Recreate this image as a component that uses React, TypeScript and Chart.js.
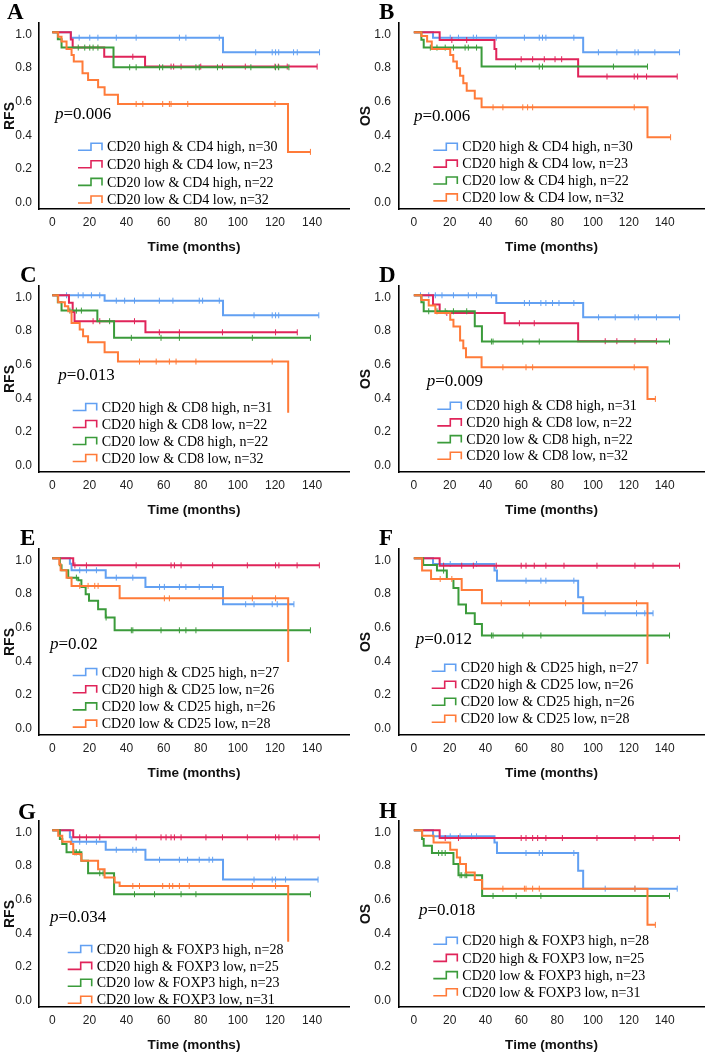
import React, { useEffect, useRef } from 'react';
import { Chart, registerables } from 'chart.js';

Chart.register(...registerables);

type Pt = [number, number];

// ---------------- shared ----------------
const GROUP_COLORS = ['#62a0f2', '#e0245a', '#3b9b3b', '#ff7b39'];
const X_TICKS = [0, 20, 40, 60, 80, 100, 120, 140];
const Y_TICKS = [0, 0.2, 0.4, 0.6, 0.8, 1.0];
const X_TITLE = 'Time (months)';

const CD4_LABELS = ['CD20 high & CD4 high, n=30', 'CD20 high & CD4 low, n=23', 'CD20 low & CD4 high, n=22', 'CD20 low & CD4 low, n=32'];
const CD8_LABELS = ['CD20 high & CD8 high, n=31', 'CD20 high & CD8 low, n=22', 'CD20 low & CD8 high, n=22', 'CD20 low & CD8 low, n=32'];
const CD25_LABELS = ['CD20 high & CD25 high, n=27', 'CD20 high & CD25 low, n=26', 'CD20 low & CD25 high, n=26', 'CD20 low & CD25 low, n=28'];
const FOXP3_LABELS = ['CD20 high & FOXP3 high, n=28', 'CD20 high & FOXP3 low, n=25', 'CD20 low & FOXP3 high, n=23', 'CD20 low & FOXP3 low, n=31'];

// ---------------- Panel A (RFS, CD4) ----------------
const A_HH_EV: Pt[] = [[10, 0.968], [92, 0.881]];
const A_HH_CEN = [14.5, 20.2, 24.6, 34.5, 45.2, 68.5, 72, 90, 109.6, 118.5, 120.3, 122, 130, 132, 144];
const A_HL_EV: Pt[] = [[10, 0.957], [11, 0.909], [28, 0.855], [50, 0.796]];
const A_HL_CEN = [43.4, 64, 65.4, 69.4, 80, 91.7, 104, 120, 121.8, 126.6, 142.7];
const A_LH_EV: Pt[] = [[3, 0.958], [5, 0.909], [33, 0.792]];
const A_LH_CEN = [14, 17.5, 20.2, 22, 24.6, 41.7, 45.2, 57.8, 59.5, 77.4, 79.2, 89, 107, 120.3, 122, 127.5];
const A_LL_EV: Pt[] = [[3.2, 0.974], [5, 0.945], [7.7, 0.901], [10.4, 0.865], [11.6, 0.826], [16.3, 0.756], [19.3, 0.717], [24.7, 0.673], [28.2, 0.628], [35.4, 0.574], [127, 0.289]];
const A_LL_CEN = [45.2, 48.8, 59.5, 63.1, 64, 73, 120, 139.1];
const A_ENDS = [144, 142.7, 127.5, 139.1];

// ---------------- Panel B (OS, CD4) ----------------
const B_HH_EV: Pt[] = [[10.7, 0.968], [94.5, 0.881]];
const B_HH_CEN = [20.3, 24.9, 33.2, 35, 46, 61.7, 70, 71.8, 73.7, 89.3, 103, 113.3, 123.4, 125.2, 134.5, 148.3];
const B_HL_EV: Pt[] = [[14.4, 0.954], [45, 0.901], [46, 0.84], [91.7, 0.737]];
const B_HL_CEN = [21.2, 29.5, 59.9, 66.3, 72.8, 78.8, 82.5, 107.8, 123, 124.9, 129.9, 147];
const B_LH_EV: Pt[] = [[4.2, 0.956], [5.5, 0.909], [37.8, 0.796]];
const B_LH_CEN = [9.2, 12.9, 17.5, 22.1, 28.6, 30.4, 35, 56.7, 70, 71.8, 111.4, 130.4];
const B_LL_EV: Pt[] = [[4.2, 0.978], [7.4, 0.945], [10, 0.901], [20.3, 0.865], [22, 0.826], [24, 0.786], [25.8, 0.741], [27.6, 0.697], [29.5, 0.653], [34, 0.606], [37.8, 0.554], [130.4, 0.376]];
const B_LL_CEN = [44.2, 49.7, 60.8, 63.5, 66.3, 123, 143.3];
const B_ENDS = [148.3, 147, 130.4, 143.3];

// ---------------- Panel C (RFS, CD8) ----------------
const C_HH_EV: Pt[] = [[28.2, 0.968], [92, 0.881]];
const C_HH_CEN = [7.7, 14, 16.6, 21.1, 25.6, 34.5, 39, 44.3, 57.7, 65, 79.2, 81, 90, 108.7, 118.5, 120.3, 122, 143.6];
const C_HL_EV: Pt[] = [[9, 0.955], [11, 0.9], [12, 0.846], [50.2, 0.78]];
const C_HL_CEN = [22, 25.6, 44.3, 57.7, 68.5, 91.7, 120.3, 132];
const C_LH_EV: Pt[] = [[3, 0.958], [5, 0.909], [24.3, 0.846], [33.3, 0.747]];
const C_LH_CEN = [9.5, 13, 15.7, 30.9, 42.6, 58.6, 68.5, 107.8, 139.1];
const C_LL_EV: Pt[] = [[3.2, 0.958], [6.8, 0.935], [8.6, 0.905], [10.4, 0.836], [14.8, 0.796], [16.6, 0.756], [19.3, 0.721], [28.2, 0.661], [35.4, 0.606], [127.1, 0.301]];
const C_LL_CEN = [47, 56, 63.1, 66.7, 77.4, 118.5];
const C_ENDS = [143.6, 132, 139.1, 127.1];

// ---------------- Panel D (OS, CD8) ----------------
const D_HH_EV: Pt[] = [[46, 0.954], [94.5, 0.869]];
const D_HH_CEN = [3.7, 8.3, 12, 15.7, 22.1, 30.4, 35, 43.3, 61.7, 64.5, 70.9, 73.7, 77.4, 81, 89.3, 103.1, 112.4, 123.4, 125.3, 135.4, 148.3];
const D_HL_EV: Pt[] = [[10.7, 0.945], [14.4, 0.895], [50.7, 0.834], [91.7, 0.727]];
const D_HL_CEN = [18.4, 58.9, 67.2, 106.8, 113.3, 123.4, 135.4];
const D_LH_EV: Pt[] = [[4.2, 0.958], [5.5, 0.905], [34, 0.816], [38, 0.725]];
const D_LH_CEN = [8.3, 12.9, 17.5, 22.1, 29.5, 43.3, 44.2, 60.8, 70, 142.7];
const D_LL_EV: Pt[] = [[4.2, 0.972], [8.3, 0.939], [12, 0.895], [20.3, 0.855], [22.1, 0.814], [25.8, 0.731], [27.6, 0.685], [29.1, 0.632], [37.8, 0.572], [130.4, 0.384]];
const D_LL_CEN = [49.7, 62.6, 66.3, 123, 134.8];
const D_ENDS = [148.3, 135.4, 142.7, 134.8];

// ---------------- Panel E (RFS, CD25) ----------------
const E_HH_EV: Pt[] = [[9.5, 0.968], [10.4, 0.929], [28.8, 0.885], [50.2, 0.83], [92, 0.727]];
const E_HH_CEN = [14.8, 18.4, 23.8, 34.5, 43.4, 57.8, 60.4, 68.5, 72, 79.2, 86.4, 104.2, 108.7, 118.5, 121.2, 130.2];
const E_HL_EV: Pt[] = [[11.3, 0.958]];
const E_HL_CEN = [12.2, 18.4, 45.2, 64, 65.8, 69.4, 86.4, 105.1, 120.3, 122.1, 131.9, 143.9];
const E_LH_EV: Pt[] = [[4.1, 0.958], [5, 0.929], [8.6, 0.885], [14, 0.869], [15.7, 0.83], [18, 0.786], [19.8, 0.747], [24.7, 0.697], [28.8, 0.648], [33.6, 0.572]];
const E_LH_CEN = [13, 29, 42.6, 43.4, 58.6, 68.5, 72, 77.4, 139.1];
const E_LL_EV: Pt[] = [[3.8, 0.964], [4.5, 0.929], [7.7, 0.885], [10.4, 0.836], [36.3, 0.762], [127.1, 0.384]];
const E_LL_CEN = [14.8, 19.3, 22.9, 24.7, 60.4, 63.1, 107.8, 120.3];
const E_ENDS = [130.2, 143.9, 139.1, 127.1];

// ---------------- Panel F (OS, CD25) ----------------
const F_HH_EV: Pt[] = [[10.7, 0.966], [45, 0.927], [46.4, 0.867], [91.7, 0.768], [94.5, 0.673]];
const F_HH_CEN = [20.3, 35, 62.6, 70.9, 73.7, 89.3, 106.8, 124.3, 128.9, 133.5];
const F_HL_EV: Pt[] = [[14.4, 0.956]];
const F_HL_CEN = [16.6, 26.7, 33.2, 46, 59.9, 62.6, 67.2, 73.7, 83.8, 102.2, 123.4, 133.5, 148.3];
const F_LH_EV: Pt[] = [[5.2, 0.96], [12.9, 0.927], [18.4, 0.877], [22.1, 0.824], [24.9, 0.725], [29.1, 0.673], [34, 0.61], [38, 0.541]];
const F_LH_CEN = [16.6, 43.3, 44.2, 60.8, 70.9, 142.7];
const F_LL_EV: Pt[] = [[4.6, 0.927], [9.6, 0.877], [26.7, 0.812], [38, 0.733], [130.4, 0.372]];
const F_LL_CEN = [14.7, 21.2, 48.8, 64.5, 84.7, 124.3];
const F_ENDS = [133.5, 148.3, 142.7, 130.4];

// ---------------- Panel G (RFS, FOXP3) ----------------
const G_HH_EV: Pt[] = [[9.5, 0.958], [10.4, 0.932], [28.8, 0.884], [50.2, 0.825], [92, 0.707]];
const G_HH_CEN = [14.8, 18.4, 23.8, 34.5, 43.4, 45.2, 57.8, 68.5, 72.9, 79.2, 84.5, 86.4, 108.7, 118.5, 120.3, 125.7, 143.2];
const G_HL_EV: Pt[] = [[11.3, 0.958]];
const G_HL_CEN = [14.8, 18.4, 25.6, 45.2, 58.6, 61.3, 64, 65.8, 69.4, 82.8, 91.7, 105.1, 120.3, 122.1, 130.2, 131.9, 143.9];
const G_LH_EV: Pt[] = [[4.1, 0.948], [5.4, 0.918], [7.7, 0.869], [15.7, 0.819], [19.3, 0.745], [33.3, 0.62]];
const G_LH_CEN = [12.2, 13, 14.8, 25.6, 27.4, 44.3, 55.1, 69.4, 77.4, 139.1];
const G_LL_EV: Pt[] = [[3.2, 0.968], [5.4, 0.932], [10, 0.918], [11.3, 0.859], [15.7, 0.819], [24.7, 0.769], [28.2, 0.719], [33.6, 0.689], [36.3, 0.669], [127.1, 0.337]];
const G_LL_CEN = [43.4, 47, 59.5, 63.1, 64.9, 68.5, 73.8, 107.8, 120.3];
const G_ENDS = [143.2, 143.9, 139.1, 127.1];

// ---------------- Panel H (OS, FOXP3) ----------------
const H_HH_EV: Pt[] = [[10.7, 0.964], [45, 0.928], [46.4, 0.865], [91.7, 0.759], [94.5, 0.653]];
const H_HH_CEN = [20.3, 25.8, 32.2, 35, 62.6, 70, 71.8, 89.3, 106.8, 123.4, 147];
const H_HL_EV: Pt[] = [[14.4, 0.954]];
const H_HL_CEN = [17.5, 24.9, 59.9, 62.6, 66.3, 69.1, 73.7, 82.9, 102.2, 123.4, 133.5, 148.3];
const H_LH_EV: Pt[] = [[4.6, 0.948], [5.5, 0.908], [10.1, 0.865], [22.1, 0.799], [24.9, 0.733], [38.1, 0.61]];
const H_LH_CEN = [13.8, 15.7, 17.5, 25.8, 26.7, 28.6, 29.5, 44.2, 57.1, 70.9, 142.7];
const H_LL_EV: Pt[] = [[4.6, 0.968], [11, 0.928], [20.3, 0.884], [24, 0.839], [25.8, 0.799], [29.1, 0.749], [34, 0.705], [38.1, 0.653], [130.4, 0.438]];
const H_LL_CEN = [49.7, 61.7, 62.6, 66.3, 70, 123.4, 134.8];
const H_ENDS = [147, 148.3, 142.7, 134.8];

// ---------------- layout (positions only) ----------------
const CANVAS_H = 263;
const AREA_TOP = 23;
const AREA_BOTTOM = 209;
const Y_ONE_PX = 32.3;
const Y_ZERO_PX = 200.5;

const SIDES: Record<string, any> = {
  L: { left: 0, w: 354, axisX: 39, zeroX: 52.3, x140: 313, right: 350, yTitlePad: 1.6, tickPad: 7 },
  R: { left: 354, w: 355, axisX: 45, zeroX: 60, x140: 313.3, right: 353, yTitlePad: 3.6, tickPad: 8 },
};
const ROW_TOPS = [0, 263, 526, 798];

type PanelCfg = {
  letter: string; yTitle: string; p: string; labels: string[];
  ev: Pt[][]; cen: number[][]; ends: number[];
  side: 'L' | 'R'; row: number;
  letterX: number; letterY: number; pX: number; pY: number;
  legX: number; legY: number; legDy: number;
};

const PANELS: PanelCfg[] = [
  { letter: 'A', yTitle: 'RFS', p: '0.006', labels: CD4_LABELS, ev: [A_HH_EV, A_HL_EV, A_LH_EV, A_LL_EV], cen: [A_HH_CEN, A_HL_CEN, A_LH_CEN, A_LL_CEN], ends: A_ENDS, side: 'L', row: 0, letterX: 7, letterY: 18.5, pX: 55, pY: 118.5, legX: 107, legY: 146.7, legDy: 17.6 },
  { letter: 'B', yTitle: 'OS', p: '0.006', labels: CD4_LABELS, ev: [B_HH_EV, B_HL_EV, B_LH_EV, B_LL_EV], cen: [B_HH_CEN, B_HL_CEN, B_LH_CEN, B_LL_CEN], ends: B_ENDS, side: 'R', row: 0, letterX: 25, letterY: 18.5, pX: 60, pY: 120.7, legX: 108.3, legY: 146.7, legDy: 16.9 },
  { letter: 'C', yTitle: 'RFS', p: '0.013', labels: CD8_LABELS, ev: [C_HH_EV, C_HL_EV, C_LH_EV, C_LL_EV], cen: [C_HH_CEN, C_HL_CEN, C_LH_CEN, C_LL_CEN], ends: C_ENDS, side: 'L', row: 1, letterX: 20, letterY: 18.5, pX: 58.3, pY: 117.3, legX: 101.7, legY: 144, legDy: 17 },
  { letter: 'D', yTitle: 'OS', p: '0.009', labels: CD8_LABELS, ev: [D_HH_EV, D_HL_EV, D_LH_EV, D_LL_EV], cen: [D_HH_CEN, D_HL_CEN, D_LH_CEN, D_LL_CEN], ends: D_ENDS, side: 'R', row: 1, letterX: 25, letterY: 18.5, pX: 72.7, pY: 122.7, legX: 112.3, legY: 142.7, legDy: 16.7 },
  { letter: 'E', yTitle: 'RFS', p: '0.02', labels: CD25_LABELS, ev: [E_HH_EV, E_HL_EV, E_LH_EV, E_LL_EV], cen: [E_HH_CEN, E_HL_CEN, E_LH_CEN, E_LL_CEN], ends: E_ENDS, side: 'L', row: 2, letterX: 20, letterY: 18.5, pX: 50, pY: 122.7, legX: 101.7, legY: 146, legDy: 17.2 },
  { letter: 'F', yTitle: 'OS', p: '0.012', labels: CD25_LABELS, ev: [F_HH_EV, F_HL_EV, F_LH_EV, F_LL_EV], cen: [F_HH_CEN, F_HL_CEN, F_LH_CEN, F_LL_CEN], ends: F_ENDS, side: 'R', row: 2, letterX: 25, letterY: 18.5, pX: 61.7, pY: 117.7, legX: 106.7, legY: 141.7, legDy: 17 },
  { letter: 'G', yTitle: 'RFS', p: '0.034', labels: FOXP3_LABELS, ev: [G_HH_EV, G_HL_EV, G_LH_EV, G_LL_EV], cen: [G_HH_CEN, G_HL_CEN, G_LH_CEN, G_LL_CEN], ends: G_ENDS, side: 'L', row: 3, letterX: 18, letterY: 21, pX: 50, pY: 123.7, legX: 96.7, legY: 151, legDy: 16.9 },
  { letter: 'H', yTitle: 'OS', p: '0.018', labels: FOXP3_LABELS, ev: [H_HH_EV, H_HL_EV, H_LH_EV, H_LL_EV], cen: [H_HH_CEN, H_HL_CEN, H_LH_CEN, H_LL_CEN], ends: H_ENDS, side: 'R', row: 3, letterX: 25, letterY: 20, pX: 65, pY: 117, legX: 108.3, legY: 142.7, legDy: 17.2 },
];

const SANS = '"Liberation Sans", Arial, sans-serif';
const SERIF = '"Liberation Serif", "Times New Roman", serif';

function survAt(events: Pt[], t: number): number {
  let s = 1;
  for (const [et, ev] of events) if (et <= t) s = ev;
  return s;
}

function curvePoints(events: Pt[], end: number) {
  const pts = [{ x: 0, y: 1 }, ...events.map(([x, y]) => ({ x, y }))];
  const last = pts[pts.length - 1];
  if (end > last.x) pts.push({ x: end, y: last.y });
  return pts;
}

function KMPanel({ cfg }: { cfg: PanelCfg }) {
  const ref = useRef<HTMLCanvasElement>(null);
  const side = SIDES[cfg.side];
  useEffect(() => {
    const pxPerMonth = (side.x140 - side.zeroX) / 140;
    const xMin = (side.axisX - side.zeroX) / pxPerMonth;
    const xMax = (side.right - side.zeroX) / pxPerMonth;
    const pxPerUnit = Y_ZERO_PX - Y_ONE_PX;
    const yMax = 1 + (Y_ONE_PX - AREA_TOP) / pxPerUnit;
    const yMin = -(AREA_BOTTOM - Y_ZERO_PX) / pxPerUnit;

    const datasets: any[] = [];
    cfg.ev.forEach((ev, g) => {
      datasets.push({
        data: curvePoints(ev, cfg.ends[g]),
        borderColor: GROUP_COLORS[g],
        borderWidth: 2,
        stepped: 'before',
        pointRadius: 0,
        fill: false,
        order: 10 - g * 2,
      });
      datasets.push({
        data: cfg.cen[g].map((t) => ({ x: t, y: survAt(ev, t) })),
        showLine: false,
        pointStyle: 'line',
        pointRotation: 90,
        pointRadius: 3,
        pointBorderWidth: 1,
        borderColor: GROUP_COLORS[g],
        backgroundColor: GROUP_COLORS[g],
        order: 9 - g * 2,
      });
    });

    const overlay = {
      id: 'overlay' + cfg.letter,
      afterDraw(chart: any) {
        const ctx = chart.ctx as CanvasRenderingContext2D;
        ctx.save();
        ctx.fillStyle = '#000';
        ctx.textAlign = 'left';
        ctx.textBaseline = 'alphabetic';
        ctx.font = `bold 23px ${SERIF}`;
        ctx.fillText(cfg.letter, cfg.letterX, cfg.letterY);
        ctx.font = `italic 17px ${SERIF}`;
        ctx.fillText('p', cfg.pX, cfg.pY);
        const pw = ctx.measureText('p').width;
        ctx.font = `17px ${SERIF}`;
        ctx.fillText('=' + cfg.p, cfg.pX + pw, cfg.pY);
        ctx.font = `14px ${SERIF}`;
        cfg.labels.forEach((lab, g) => {
          const cy = cfg.legY + g * cfg.legDy;
          const x0 = cfg.legX - 29;
          ctx.strokeStyle = GROUP_COLORS[g];
          ctx.lineWidth = 1.6;
          ctx.beginPath();
          ctx.moveTo(x0, cy + 3.5);
          ctx.lineTo(x0 + 13, cy + 3.5);
          ctx.lineTo(x0 + 13, cy - 3.5);
          ctx.lineTo(x0 + 24, cy - 3.5);
          ctx.lineTo(x0 + 24, cy + 3.5);
          ctx.stroke();
          ctx.fillStyle = '#000';
          ctx.fillText(lab, cfg.legX, cy + 4.6);
        });
        ctx.restore();
      },
    };

    const chart = new Chart(ref.current as HTMLCanvasElement, {
      type: 'line',
      data: { datasets },
      plugins: [overlay],
      options: {
        animation: false,
        responsive: false,
        maintainAspectRatio: false,
        devicePixelRatio: 1,
        layout: { padding: { left: 0, right: side.w - side.right, top: AREA_TOP, bottom: 0 } },
        plugins: { legend: { display: false }, tooltip: { enabled: false } },
        scales: {
          x: {
            type: 'linear',
            min: xMin,
            max: xMax,
            grid: { display: false, drawTicks: false, tickLength: 0 },
            border: { display: true, color: '#000', width: 1.6 },
            afterBuildTicks: (s: any) => { s.ticks = X_TICKS.map((v) => ({ value: v })); },
            afterFit: (s: any) => { s.height = CANVAS_H - AREA_BOTTOM; },
            ticks: { color: '#222', font: { family: SANS, size: 12 }, padding: 6, maxRotation: 0, autoSkip: false },
            title: { display: true, text: X_TITLE, color: '#111', font: { family: SANS, size: 13.5, weight: 'bold' }, padding: { top: 0, bottom: 7.9 } },
          },
          y: {
            type: 'linear',
            min: yMin,
            max: yMax,
            grid: { display: false, drawTicks: false, tickLength: 0 },
            border: { display: true, color: '#000', width: 1.6 },
            afterBuildTicks: (s: any) => { s.ticks = Y_TICKS.map((v) => ({ value: v })); },
            afterFit: (s: any) => { s.width = side.axisX; },
            ticks: { color: '#222', font: { family: SANS, size: 12 }, padding: side.tickPad, labelOffset: 2.2, callback: (v: any) => Number(v).toFixed(1) },
            title: { display: true, text: cfg.yTitle, color: '#111', font: { family: SANS, size: 14, weight: 'bold' }, padding: { top: side.yTitlePad, bottom: 0 } },
          },
        },
      } as any,
    });
    return () => chart.destroy();
  }, []);
  return (
    <canvas
      ref={ref}
      width={side.w}
      height={CANVAS_H}
      style={{ position: 'absolute', left: side.left, top: ROW_TOPS[cfg.row], width: side.w, height: CANVAS_H }}
    />
  );
}

export default function App() {
  return (
    <div style={{ position: 'absolute', left: 0, top: 0, width: 709, height: 1052, overflow: 'hidden', background: '#fff' }}>
      {PANELS.map((p) => (
        <KMPanel key={p.letter} cfg={p} />
      ))}
    </div>
  );
}
